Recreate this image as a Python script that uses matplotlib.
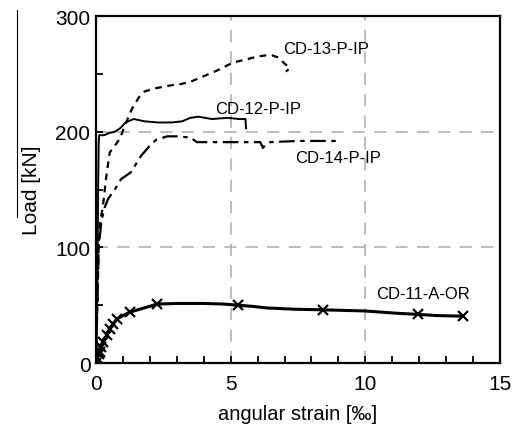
import matplotlib.pyplot as plt
import matplotlib.lines as mlines
import numpy as np

plt.rcParams['font.family'] = ['Liberation Sans', 'DejaVu Sans']

# CD-12-P-IP (solid)
strain_12 = [0.0, 0.05, 0.08, 0.1, 0.12, 0.3, 0.5, 0.7, 0.9, 1.1, 1.4, 1.8, 2.3, 2.8, 3.2, 3.5, 3.8, 4.3, 4.9, 5.3, 5.55, 5.57]
load_12 = [0, 60, 150, 190, 197, 197, 199, 200, 203, 208, 211, 209, 208, 208, 209, 212, 213, 211, 212, 211, 211, 203]

# CD-13-P-IP (dashed)
strain_13 = [0.0, 0.06, 0.1, 0.15, 0.2, 0.26, 0.37, 0.51, 0.7, 0.89, 1.1, 1.34, 1.6, 1.82, 2.3, 2.75, 3.1, 3.49, 4.0, 4.5, 5.1, 5.5, 5.98, 6.3, 6.54, 6.8, 6.95, 7.1, 7.2, 7.05]
load_13 = [0, 60, 100, 120, 128, 136, 159, 182, 188, 194, 207, 220, 230, 235, 238, 240, 241, 243, 248, 253, 260, 262, 265, 266, 266, 264, 260, 257, 255, 252]

# CD-14-P-IP (dash-dot)
strain_14 = [0.0, 0.05, 0.1, 0.2, 0.3, 0.45, 0.7, 0.93, 1.3, 1.67, 2.0, 2.23, 2.64, 3.0, 3.5, 3.75, 4.5, 4.98, 5.6, 6.1, 6.2, 6.3, 6.47, 7.5, 8.96]
load_14 = [0, 50, 100, 122, 133, 142, 150, 159, 165, 179, 188, 193, 196, 196, 195, 191, 191, 191, 191, 191, 186, 189, 191, 192, 192]

# CD-11-A-OR (with x markers)
strain_11 = [0.0, 0.05, 0.1, 0.15, 0.2, 0.26, 0.4, 0.52, 0.65, 0.78, 1.0, 1.26, 1.7, 2.27, 3.0, 4.0, 4.72, 5.28, 5.8, 6.36, 7.4, 8.44, 10.0, 11.2, 11.97, 12.7, 13.64]
load_11 = [0, 4, 8, 9.5, 14, 18, 24, 29.5, 34, 38, 41, 44, 47, 51, 51.5, 51.5, 51, 50, 49, 47.6, 46.5, 46, 45, 43, 42, 41, 40.5]
marker_idx = [0, 1, 2, 3, 4, 5, 6, 7, 8, 9, 11, 13, 17, 21, 24, 26]

fig = plt.figure(figsize=(5.16, 4.27), dpi=100)
ax = fig.add_axes([0.186, 0.1475, 0.783, 0.8125])

ax.plot(strain_12, load_12, color='k', linewidth=1.4, linestyle='-')
ax.plot(strain_13, load_13, color='k', linewidth=1.6, linestyle=(0, (3, 2.5)))
ax.plot(strain_14, load_14, color='k', linewidth=1.6, linestyle=(0, (7, 2.5, 2, 2.5)))
ax.plot(strain_11, load_11, color='k', linewidth=2.2, marker='x', markersize=7,
        markeredgewidth=1.6, markevery=marker_idx)

ax.set_xlim(0, 15)
ax.set_ylim(0, 300)
ax.set_xticks([0, 5, 10, 15])
ax.set_xticks(np.arange(0, 15, 1), minor=True)
ax.set_yticks([0, 100, 200, 300])
ax.set_yticks([50, 150, 250], minor=True)
ax.tick_params(which='both', direction='in', top=False, right=False, labelsize=15, width=1.3)
ax.tick_params(which='major', length=5)
ax.tick_params(which='minor', length=5)
ax.tick_params(axis='x', pad=8)
ax.tick_params(axis='y', pad=4)

ax.grid(which='major', linestyle=(0, (8, 6)), linewidth=1.1, color='#aaaaaa')
ax.set_axisbelow(True)
for s in ax.spines.values():
    s.set_linewidth(1.6)

ax.set_xlabel('angular strain [‰]', fontsize=14.5, labelpad=8)
ax.set_ylabel('Load [kN]', fontsize=15, labelpad=10)

ax.text(6.95, 272, 'CD-13-P-IP', fontsize=12, va='center', ha='left')
ax.text(4.42, 220, 'CD-12-P-IP', fontsize=12, va='center', ha='left')
ax.text(7.4, 178, 'CD-14-P-IP', fontsize=12, va='center', ha='left')
ax.text(10.4, 60, 'CD-11-A-OR', fontsize=12, va='center', ha='left')

fig.add_artist(mlines.Line2D([0.033, 0.033], [0.975, 0.49], color='k', linewidth=0.8))

fig.savefig('out.png', dpi=100)
